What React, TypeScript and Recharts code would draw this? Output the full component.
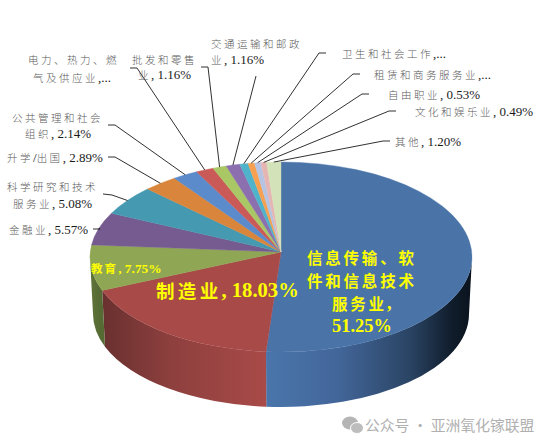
import { PieChart, Pie } from 'recharts';

const categories = [
  '信息传输、软件和信息技术服务业', '制造业', '教育', '金融业', '科学研究和技术服务业',
  '升学/出国', '公共管理和社会组织', '电力、热力、燃气及供应业', '批发和零售业',
  '交通运输和邮政业', '卫生和社会工作', '租赁和商务服务业', '自由职业', '文化和娱乐业', '其他',
];
const shares = [51.25, 18.03, 7.75, 5.57, 5.08, 2.89, 2.14, 1.5, 1.16, 1.16, 0.7, 0.55, 0.53, 0.49, 1.2];
const topColors = [
  '#4a74a8', '#a84a48', '#8fa654', '#765b90', '#4599b0', '#d9853c', '#5b8bcb', '#c95a58',
  '#a9c765', '#8b6fae', '#4fb3cb', '#f7a150', '#b4c4e2', '#e5b5b4', '#d4e2b9',
];
const labelLines = [
  ['信息传输、软', '件和信息技术', '服务业,', '51.25%'],
  ['制造业, 18.03%'],
  ['教育, 7.75%'],
  ['金融业, 5.57%'],
  ['科学研究和技术', '服务业, 5.08%'],
  ['升学/出国, 2.89%'],
  ['公共管理和社会', '组织, 2.14%'],
  ['电力、热力、燃', '气及供应业,...'],
  ['批发和零售', '业, 1.16%'],
  ['交通运输和邮政', '业, 1.16%'],
  ['卫生和社会工作,...'],
  ['租赁和商务服务业,...'],
  ['自由职业, 0.53%'],
  ['文化和娱乐业, 0.49%'],
  ['其他, 1.20%'],
];

// where each label sits: x of every line, y centre of every line, then leader elbow
type Place = { xs: number[]; ys: number[]; elbow?: number[] };
const placement: Place[] = [
  { xs: [307, 307, 332, 332], ys: [257, 280, 303, 326] },
  { xs: [156], ys: [290] },
  { xs: [91], ys: [268] },
  { xs: [9], ys: [229], elbow: [93, 229, 100, 229] },
  { xs: [7, 13], ys: [186, 203], elbow: [103, 194, 112, 195] },
  { xs: [7], ys: [157], elbow: [108, 157, 115, 157] },
  { xs: [12, 25], ys: [117, 133], elbow: [108, 125, 115, 125] },
  { xs: [28, 33], ys: [59, 77], elbow: [130, 68, 137, 68] },
  { xs: [132, 138], ys: [59, 74], elbow: [201, 67, 208, 67] },
  { xs: [211, 211], ys: [43, 59], elbow: [256, 76, 256, 76] },
  { xs: [342], ys: [53], elbow: [326, 53, 319, 53] },
  { xs: [374], ys: [74], elbow: [360, 74, 353, 74] },
  { xs: [388], ys: [94], elbow: [369, 94, 362, 94] },
  { xs: [415], ys: [111], elbow: [396, 111, 389, 111] },
  { xs: [395], ys: [141], elbow: [390, 141, 383, 141] },
];
const insideSize = [15.5, 18.5, 11.5];
const insideLatinSize = [18.4, 20.6, 13.4];

const tableData = categories.map((name, i) => ({ name, value: shares[i], fill: topColors[i] }));

const WIDTH = 553;
const HEIGHT = 446;
const CX = 281;
const RX = 191;
const TOP = { cy: 257, rx: RX, ry: 95 };
const BOTTOM = { cy: 314, rx: 188, ry: 93 };
const APEX_Y = 252;
const RAD = Math.PI / 180;

type Ellipse = { cy: number; rx: number; ry: number };
const onRim = (deg: number, e: Ellipse, cx = CX) => ({
  x: cx + e.rx * Math.cos(deg * RAD),
  y: e.cy - e.ry * Math.sin(deg * RAD),
});

// flat top face: the library's angles, squashed onto an ellipse
function TopSlice(props: any) {
  const { cx, startAngle, endAngle, fill } = props;
  const a = onRim(startAngle, TOP, cx);
  const b = onRim(endAngle, TOP, cx);
  const large = Math.abs(startAngle - endAngle) > 180 ? 1 : 0;
  return (
    <path
      d={`M${cx},${APEX_Y} L${a.x},${a.y} A${TOP.rx},${TOP.ry} 0 ${large} 1 ${b.x},${b.y} Z`}
      fill={fill}
      stroke={fill}
      strokeWidth={0.4}
    />
  );
}

// side wall, only the part of a slice that faces the viewer
function WallSlice(props: any) {
  const { cx, startAngle, endAngle, index } = props;
  const from = Math.min(startAngle, 0);
  const to = Math.max(endAngle, -180);
  if (from <= to) return <g />;
  const a = onRim(from, TOP, cx);
  const b = onRim(to, TOP, cx);
  const c = onRim(to, BOTTOM, cx);
  const d = onRim(from, BOTTOM, cx);
  return (
    <path
      d={`M${a.x},${a.y} A${TOP.rx},${TOP.ry} 0 0 1 ${b.x},${b.y} L${c.x},${c.y} A${BOTTOM.rx},${BOTTOM.ry} 0 0 0 ${d.x},${d.y} Z`}
      fill={`url(#wall-${index})`}
    />
  );
}

function TextRuns({ text, index }: { text: string; index: number }) {
  const inside = index < 3;
  const size = insideSize[index] ?? 10.5;
  const runs = text.split(/([\x00-\x7f]+)/).filter(Boolean);
  return (
    <>
      {runs.map((run, i) => {
        const latin = /^[\x00-\x7f]/.test(run);
        if (latin) {
          return (
            <tspan
              key={i}
              fontFamily="'Liberation Serif'"
              fontSize={inside ? insideLatinSize[index] : 13}
              fill={inside ? '#ffff00' : '#1a1a1a'}
              fontWeight={inside ? 700 : 400}
            >
              {run}
            </tspan>
          );
        }
        return (
          <tspan
            key={i}
            fontFamily="'Noto Sans CJK SC'"
            fontSize={size}
            fill={inside ? '#ffff00' : '#5a5a5a'}
            fontWeight={inside ? 700 : 300}
            letterSpacing={inside ? size * 0.18 : 2.5}
          >
            {run}
          </tspan>
        );
      })}
    </>
  );
}

function renderLabel(props: any) {
  const { index, midAngle, cx } = props;
  const place = placement[index];
  const rim = onRim(midAngle, TOP, cx);
  const elbow = place.elbow;
  return (
    <g key={index}>
      {elbow && (
        <polyline
          points={`${elbow[0]},${elbow[1]} ${elbow[2]},${elbow[3]} ${rim.x},${rim.y}`}
          fill="none"
          stroke="#1a1a1a"
          strokeWidth={0.9}
        />
      )}
      {labelLines[index].map((line, i) => (
        <text key={i} x={place.xs[i]} y={place.ys[i]} dominantBaseline="central">
          <TextRuns text={line} index={index} />
        </text>
      ))}
    </g>
  );
}

export default function App() {
  return (
    <div style={{ position: 'absolute', left: 0, top: 0, width: WIDTH, height: HEIGHT, background: '#fff' }}>
      <PieChart width={WIDTH} height={HEIGHT} margin={{ top: 0, right: 0, bottom: 0, left: 0 }}>
        <defs>
          <linearGradient id="wall-0" gradientUnits="userSpaceOnUse" x1="265" y1="0" x2="472" y2="0">
            <stop offset="0%" stopColor="#4a76ab" />
            <stop offset="35%" stopColor="#43669a" />
            <stop offset="70%" stopColor="#2a4464" />
            <stop offset="90%" stopColor="#101d2c" />
            <stop offset="100%" stopColor="#0a131d" />
          </linearGradient>
          <linearGradient id="wall-1" gradientUnits="userSpaceOnUse" x1="97" y1="0" x2="265" y2="0">
            <stop offset="0%" stopColor="#662f2e" />
            <stop offset="45%" stopColor="#8e403e" />
            <stop offset="100%" stopColor="#a84a48" />
          </linearGradient>
          <linearGradient id="wall-2" gradientUnits="userSpaceOnUse" x1="90" y1="0" x2="100" y2="0">
            <stop offset="0%" stopColor="#5f7439" />
            <stop offset="100%" stopColor="#566a34" />
          </linearGradient>
        </defs>
        <Pie
          data={tableData}
          dataKey="value"
          nameKey="name"
          cx={CX}
          cy={TOP.cy}
          outerRadius={RX}
          startAngle={90}
          endAngle={-270}
          stroke="none"
          shape={WallSlice}
          isAnimationActive={false}
        />
        <Pie
          data={tableData}
          dataKey="value"
          nameKey="name"
          cx={CX}
          cy={TOP.cy}
          outerRadius={RX}
          startAngle={90}
          endAngle={-270}
          stroke="none"
          shape={TopSlice}
          label={renderLabel}
          labelLine={false}
          isAnimationActive={false}
        />
        <g>
          <ellipse cx={350} cy={423} rx={8} ry={6.5} fill="#b5b5b5" />
          <ellipse cx={357} cy={428} rx={6.5} ry={5.5} fill="#bdbdbd" stroke="#fff" strokeWidth={1} />
          <text x={365} y={424} dominantBaseline="central" fontFamily="'Noto Sans CJK SC'" fontSize={14.8} fill="#b0b0b0">
            公众号 · 亚洲氧化镓联盟
          </text>
        </g>
      </PieChart>
    </div>
  );
}
